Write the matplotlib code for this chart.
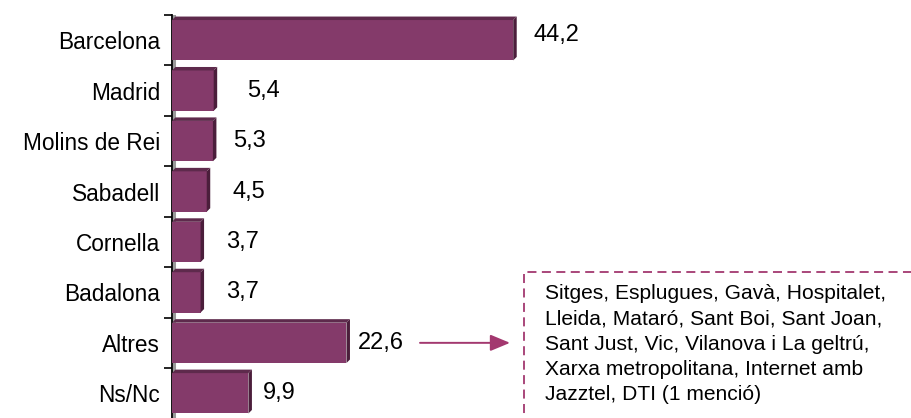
import matplotlib
matplotlib.use("Agg")
import matplotlib.pyplot as plt
from matplotlib.patches import Polygon, Rectangle
import numpy as np

categories = ["Barcelona", "Madrid", "Molins de Rei", "Sabadell", "Cornella",
              "Badalona", "Altres", "Ns/Nc"]
values = [44.2, 5.4, 5.3, 4.5, 3.7, 3.7, 22.6, 9.9]
labels = ["44,2", "5,4", "5,3", "4,5", "3,7", "3,7", "22,6", "9,9"]
# label offsets (points) from the end of each bar
label_dx = [12, 21.5, 12, 16, 16, 16, 6, 8]
label_dy = [3.5, 0, 0, 0, 0, 0, 0, 0]

other_text = ("Sitges, Esplugues, Gavà, Hospitalet,\n"
              "Lleida, Mataró, Sant Boi, Sant Joan,\n"
              "Sant Just, Vic, Vilanova i La geltrú,\n"
              "Xarxa metropolitana, Internet amb\n"
              "Jazztel, DTI (1 menció)")

face = "#843A6A"
side = "#4B1E3B"
top = "#5E2A4C"
accent = "#A3386F"

plt.rcParams["font.family"] = ["Liberation Sans", "DejaVu Sans"]

W, H = 911, 418
fig = plt.figure(figsize=(W / 100, H / 100), dpi=100)
ax = fig.add_axes([172 / W, -0.5 / H, (W - 172) / W, 403.5 / H])
xmax = (W - 172) / 7.72
ax.set_xlim(0, xmax)
ax.set_ylim(len(categories) - 0.5, -0.5)

y = np.arange(len(categories))
bh = 0.8
ddx = 3.5 / 7.72          # depth of the 3d side, in x units
ddy = 3.5 / 50.4          # depth of the 3d side, in category units
ax.barh(y, values, height=bh, color=face, edgecolor="none", zorder=3)
for yi, v in zip(y, values):
    y0, y1 = yi - bh / 2, yi + bh / 2
    ax.add_patch(Polygon([(v, y0), (v + ddx, y0 - ddy), (v + ddx, y1 - ddy), (v, y1)],
                         closed=True, facecolor=side, edgecolor="none", zorder=3))
    ax.add_patch(Polygon([(0, y0), (ddx, y0 - ddy), (v + ddx, y0 - ddy), (v, y0)],
                         closed=True, facecolor=top, edgecolor="none", zorder=3))

for yi, v, lab, dx, dy in zip(y, values, labels, label_dx, label_dy):
    ax.annotate(lab, (v + ddx, yi), xytext=(dx, dy), textcoords="offset points",
                ha="left", va="center", fontsize=17, color="black")

# axis wall
ax.axvline(0.22, color="#9a9a9a", lw=2.2, zorder=2)
for s in ["top", "right", "bottom"]:
    ax.spines[s].set_visible(False)
ax.spines["left"].set_color("black")
ax.spines["left"].set_linewidth(1.3)
ax.set_xticks([])
ax.set_yticks(y)
ax.set_yticklabels(categories, fontsize=16.3)
ax.tick_params(axis="y", which="major", length=0, pad=8.5)
ax.set_yticks(np.arange(-0.5, len(categories), 1.0), minor=True)
ax.tick_params(axis="y", which="minor", length=6, width=1.2, color="black")

# arrow from "Altres" to the detail box
ax.annotate("", xy=((510 - 172) / 7.72, 6), xytext=((420 - 172) / 7.72, 6),
            arrowprops=dict(arrowstyle="-|>,head_length=1.2,head_width=0.5",
                            color=accent, lw=1.4, shrinkA=0, shrinkB=0))

box = Rectangle((524 / W, -0.05), 0.6, (H - 272) / H + 0.05, transform=fig.transFigure,
                fill=False, edgecolor=accent, lw=1.3, linestyle=(0, (5, 3)),
                clip_on=False)
fig.add_artist(box)
fig.text(545 / W, (H - 284) / H, other_text, ha="left", va="top",
         fontsize=15.1, linespacing=1.42, color="black")

fig.savefig("out.png", dpi=100)
